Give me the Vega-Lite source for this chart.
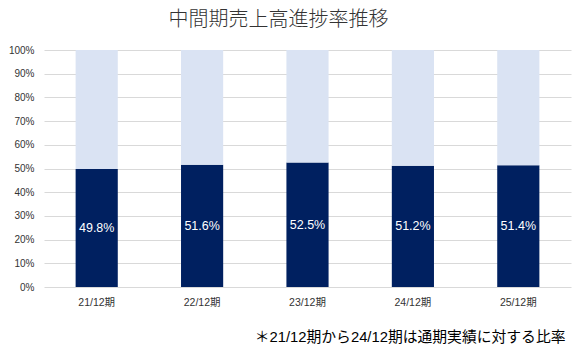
{
  "$schema": "https://vega.github.io/schema/vega-lite/v6.json",
  "width": 527,
  "height": 237,
  "autosize": {"type": "none"},
  "padding": {"left": 44, "top": 50, "right": 9, "bottom": 64},
  "background": "white",
  "config": {"view": {"stroke": null}, "font": "Liberation Sans, Noto Sans CJK JP"},
  "title": {
    "text": "中間期売上高進捗率推移",
    "font": "Noto Sans CJK JP",
    "fontSize": 20,
    "fontWeight": 300,
    "color": "#333333",
    "anchor": "middle",
    "frame": "group",
    "dx": -29,
    "offset": 15
  },
  "data": {
    "values": [
      {"period": "21/12期", "type": "achieved", "rate": 0.498},
      {"period": "21/12期", "type": "remaining", "rate": 0.502},
      {"period": "22/12期", "type": "achieved", "rate": 0.516},
      {"period": "22/12期", "type": "remaining", "rate": 0.484},
      {"period": "23/12期", "type": "achieved", "rate": 0.525},
      {"period": "23/12期", "type": "remaining", "rate": 0.475},
      {"period": "24/12期", "type": "achieved", "rate": 0.512},
      {"period": "24/12期", "type": "remaining", "rate": 0.488},
      {"period": "25/12期", "type": "achieved", "rate": 0.514},
      {"period": "25/12期", "type": "remaining", "rate": 0.486}
    ]
  },
  "layer": [
    {
      "mark": {"type": "bar"},
      "encoding": {
        "x": {
          "field": "period",
          "type": "nominal",
          "sort": null,
          "scale": {"paddingInner": 0.6, "paddingOuter": 0.3},
          "axis": {
            "labelAngle": 0,
            "ticks": false,
            "domain": false,
            "labelPadding": 10,
            "labelFontSize": 10.5,
            "labelColor": "#333333",
            "labelFont": "Liberation Sans, Noto Sans CJK JP",
            "title": "＊21/12期から24/12期は通期実績に対する比率",
            "titleFont": "Liberation Sans, Noto Sans CJK JP",
            "titleFontSize": 14.8,
            "titleFontWeight": "normal",
            "titleColor": "#000000",
            "titleAlign": "right",
            "titleBaseline": "middle",
            "titleX": 521,
            "titleY": 50
          }
        },
        "y": {
          "field": "rate",
          "type": "quantitative",
          "stack": "zero",
          "scale": {"domain": [0, 1]},
          "axis": {
            "format": ".0%",
            "values": [0, 0.1, 0.2, 0.3, 0.4, 0.5, 0.6, 0.7, 0.8, 0.9, 1],
            "domain": false,
            "ticks": false,
            "labelPadding": 10,
            "labelFontSize": 10,
            "labelColor": "#333333",
            "gridColor": "#d9d9d9",
            "title": null
          }
        },
        "color": {
          "field": "type",
          "type": "nominal",
          "scale": {"domain": ["achieved", "remaining"], "range": ["#002060", "#dae3f3"]},
          "legend": null
        },
        "order": {"field": "type", "sort": "ascending"}
      }
    },
    {
      "transform": [{"filter": "datum.type === 'achieved'"}],
      "mark": {"type": "text", "color": "white", "fontSize": 12.5, "baseline": "middle", "font": "Liberation Sans"},
      "encoding": {
        "x": {"field": "period", "type": "nominal", "sort": null},
        "y": {"field": "rate", "type": "quantitative", "scale": {"domain": [0, 2]}, "axis": null},
        "text": {"field": "rate", "type": "quantitative", "format": ".1%"}
      }
    }
  ],
  "resolve": {"scale": {"y": "independent"}}
}
